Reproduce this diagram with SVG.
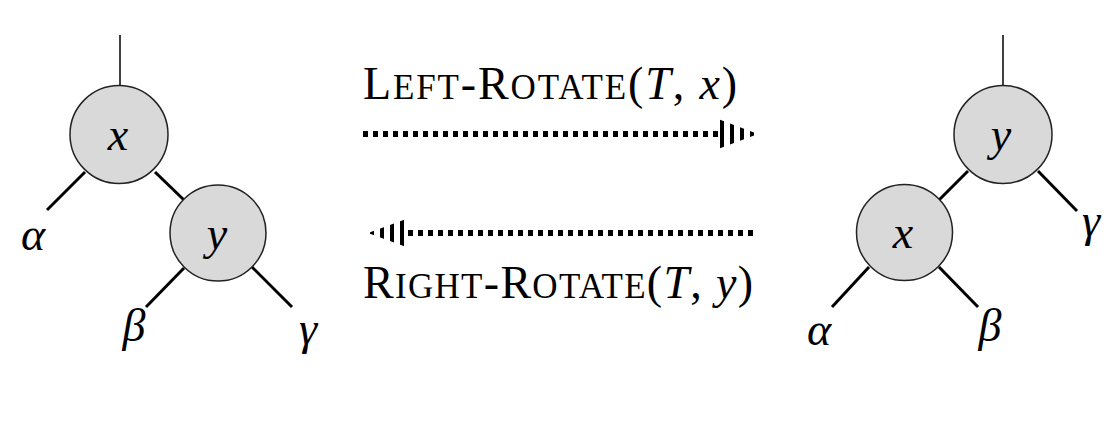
<svg xmlns="http://www.w3.org/2000/svg" width="1117" height="438" viewBox="0 0 1117 438">
<style>
.node{fill:#d9d9d9;stroke:#222;stroke-width:1.5}
.edge{stroke:#000;stroke-width:3;stroke-linecap:butt}
.root{stroke:#000;stroke-width:1.5}
text{font-family:'Liberation Serif','Times New Roman',serif;font-size:46px;fill:#000}
.i{font-style:italic}
.sc{font-size:35px}
.dot{stroke:#000;stroke-width:6;stroke-dasharray:5 5;fill:none}
</style>
<defs>
<pattern id="stripes" patternUnits="userSpaceOnUse" x="0" y="0" width="10" height="10">
<rect x="0" y="0" width="4" height="10" fill="#000"/>
</pattern>
</defs>
<rect width="1117" height="438" fill="#fff"/>
<g id="connectors">
<line class="root" x1="120" y1="35" x2="120" y2="86"/>
<line class="edge" x1="85" y1="172" x2="47" y2="210"/>
<line class="edge" x1="155" y1="172" x2="184" y2="200"/>
<line class="edge" x1="184" y1="268" x2="146" y2="307"/>
<line class="edge" x1="252" y1="267" x2="292" y2="307"/>
<line class="root" x1="1003" y1="35" x2="1003" y2="86"/>
<line class="edge" x1="968" y1="171" x2="939" y2="200"/>
<line class="edge" x1="1038" y1="171" x2="1077" y2="211"/>
<line class="edge" x1="869" y1="267" x2="832" y2="307"/>
<line class="edge" x1="939" y1="267" x2="978" y2="307"/>
<line class="dot" x1="363" y1="134" x2="718" y2="134"/>
<polygon points="718,119 758,134 718,149" fill="url(#stripes)"/>
<line class="dot" x1="753" y1="233" x2="408" y2="233"/>
<polygon points="409,218 368,233 409,248" fill="url(#stripes)"/>
</g>
<g id="left-x"><circle class="node" cx="119" cy="134.5" r="49"/><text class="i" x="118" y="150" text-anchor="middle">x</text></g>
<g id="left-y"><circle class="node" cx="218" cy="233" r="48"/><text class="i" x="217" y="249" text-anchor="middle">y</text></g>
<g id="left-alpha"><text class="i" x="33" y="250" text-anchor="middle">α</text></g>
<g id="left-beta"><text class="i" x="134" y="341" text-anchor="middle">β</text></g>
<g id="left-gamma"><text class="i" x="308" y="344" text-anchor="middle">γ</text></g>
<g id="right-y"><circle class="node" cx="1003" cy="134.5" r="49"/><text class="i" x="1001" y="150" text-anchor="middle">y</text></g>
<g id="right-x"><circle class="node" cx="904.5" cy="232.5" r="48"/><text class="i" x="903" y="248" text-anchor="middle">x</text></g>
<g id="right-gamma"><text class="i" x="1091" y="236" text-anchor="middle">γ</text></g>
<g id="right-alpha"><text class="i" x="819" y="345" text-anchor="middle">α</text></g>
<g id="right-beta"><text class="i" x="990" y="341" text-anchor="middle">β</text></g>
<g id="label-left"><text x="363" y="99" textLength="374" lengthAdjust="spacing">L<tspan class="sc">EFT</tspan>-R<tspan class="sc">OTATE</tspan>(<tspan class="i">T</tspan>, <tspan class="i">x</tspan>)</text></g>
<g id="label-right"><text x="363" y="298" textLength="390" lengthAdjust="spacing">R<tspan class="sc">IGHT</tspan>-R<tspan class="sc">OTATE</tspan>(<tspan class="i">T</tspan>, <tspan class="i">y</tspan>)</text></g>
</svg>
